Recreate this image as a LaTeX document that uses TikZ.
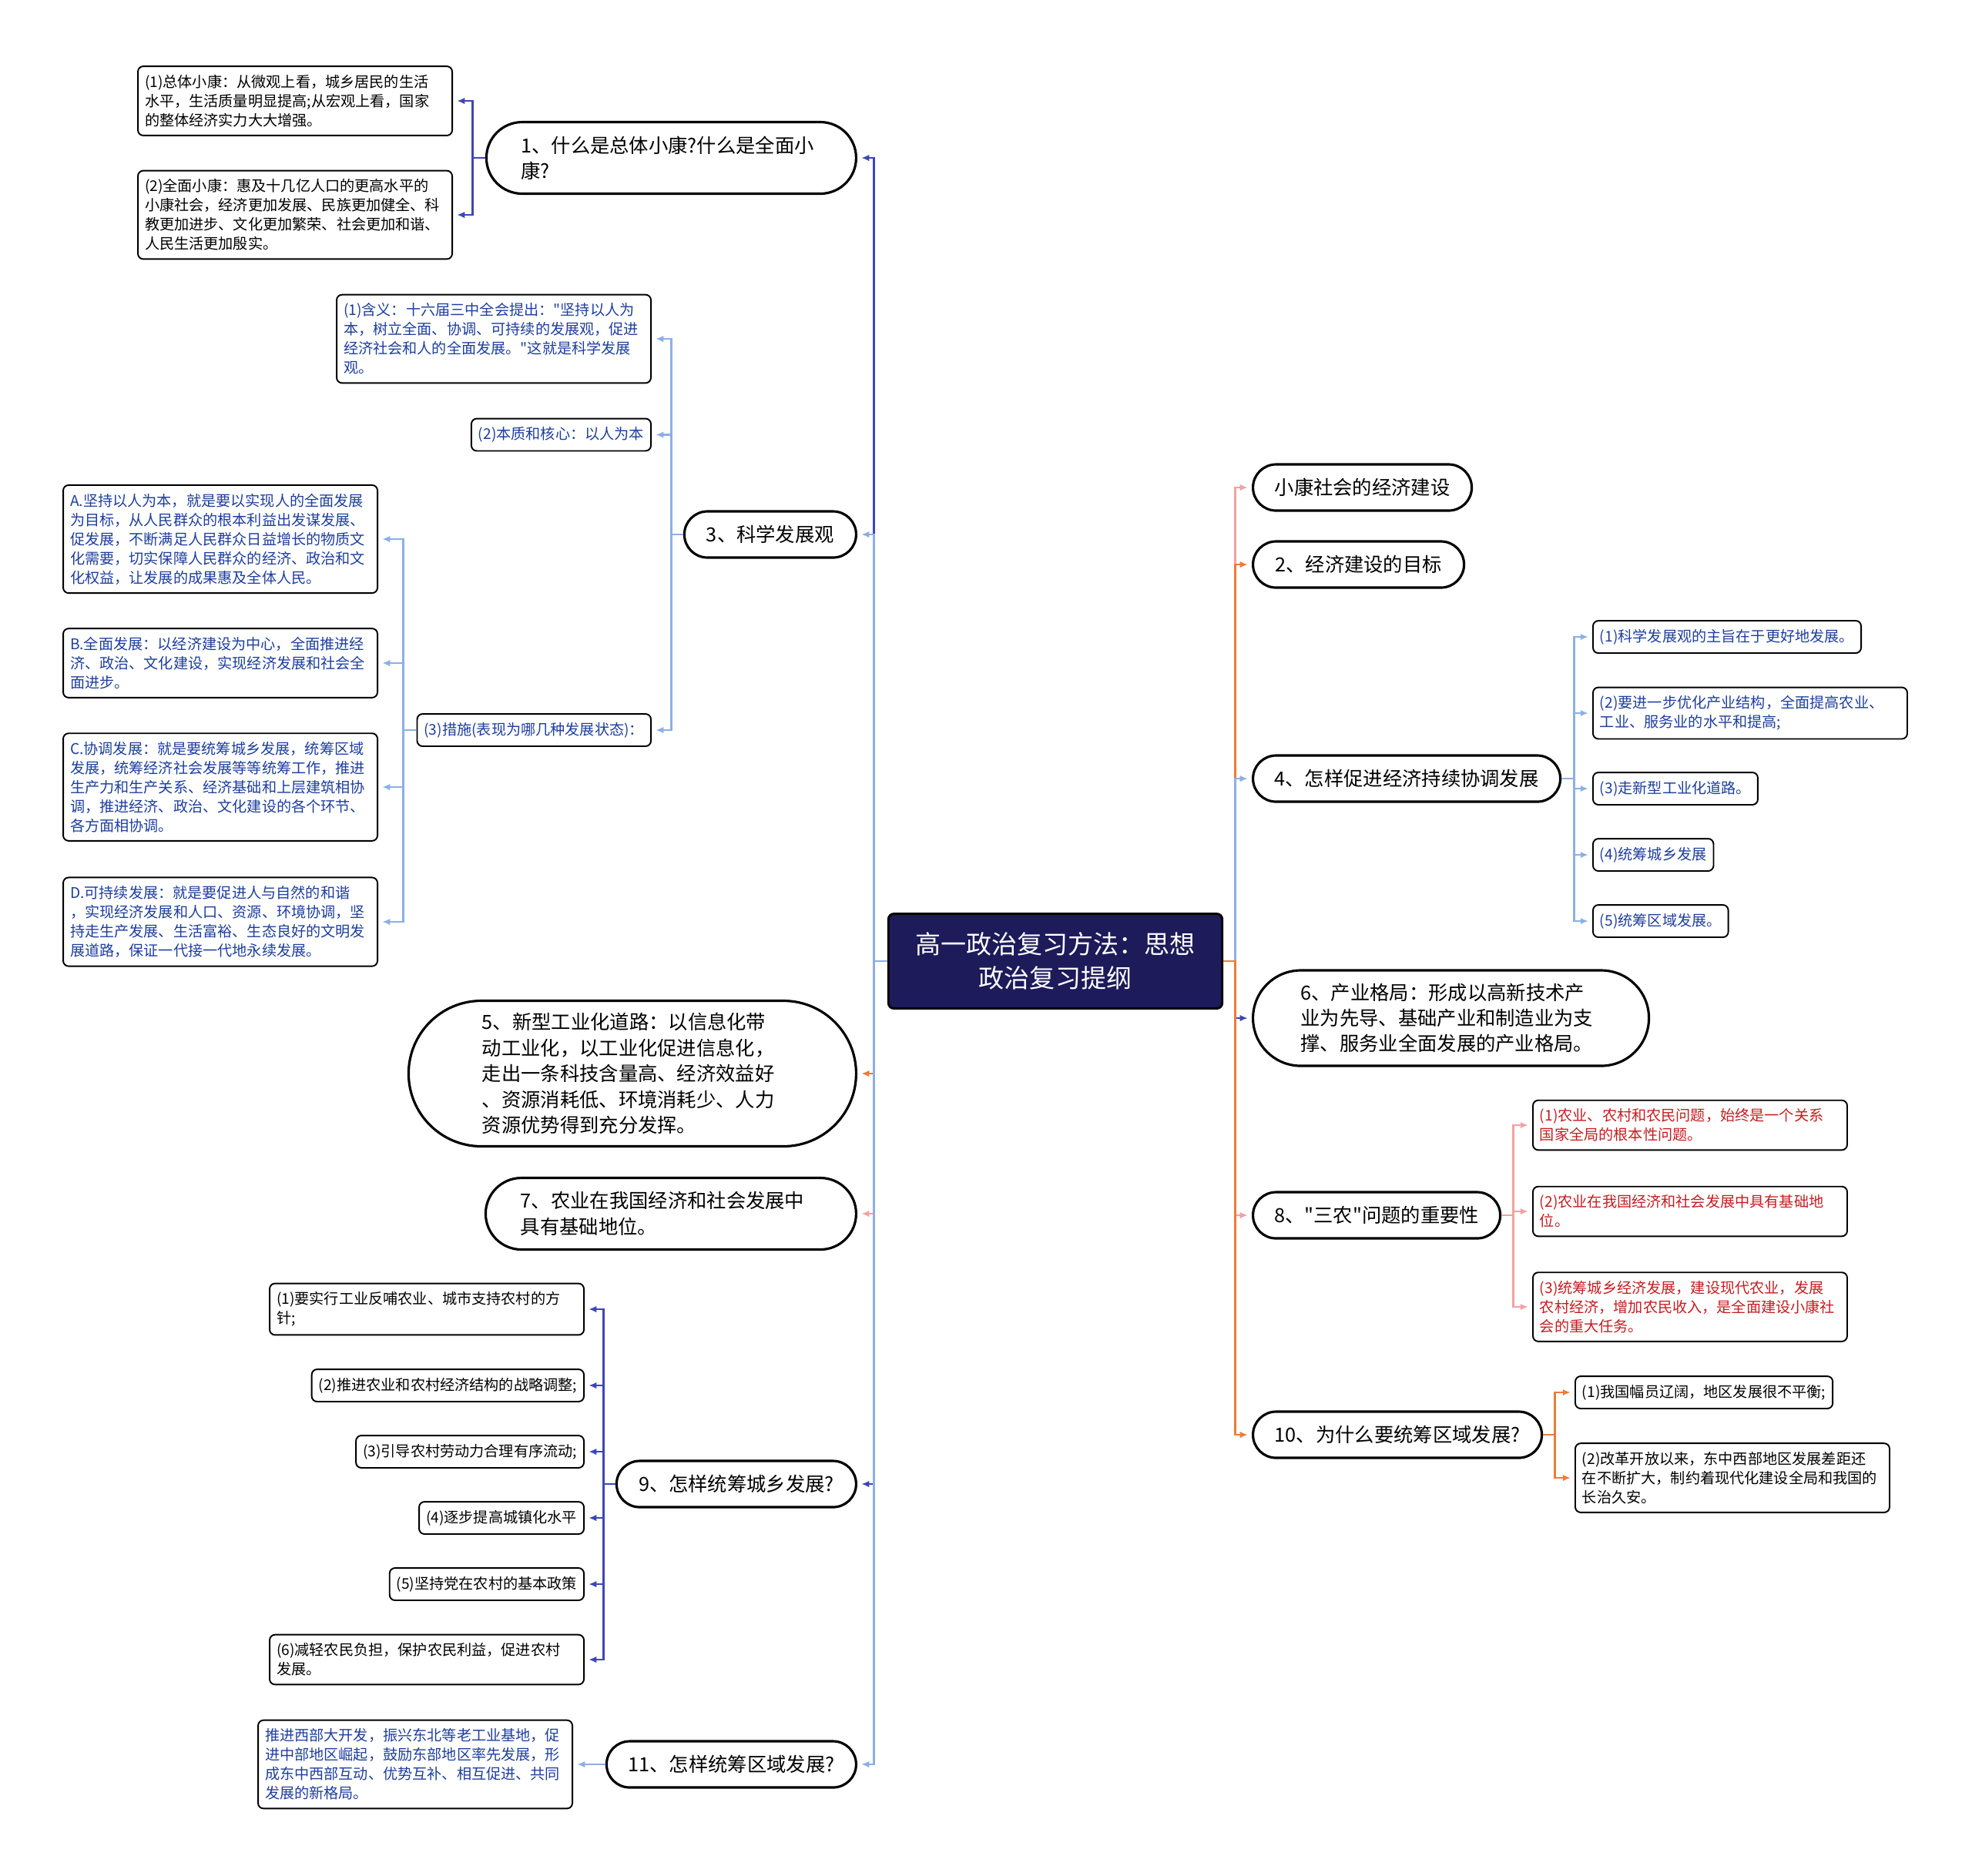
\documentclass[tikz,border=0pt]{standalone}
\usepackage{fontspec}
\setmainfont[Ligatures=TeXOff]{Noto Sans CJK SC}
\usepackage{xcolor}
\usepackage{tikz}
\usetikzlibrary{shapes.misc, arrows.meta, positioning}
\definecolor{mynavy}{RGB}{29,27,90}
\definecolor{myindigo}{RGB}{62,70,182}
\definecolor{mysky}{RGB}{140,175,230}
\definecolor{myorange}{RGB}{236,124,56}
\definecolor{mypink}{RGB}{242,162,162}
\definecolor{txtblue}{RGB}{30,62,158}
\definecolor{txtred}{RGB}{198,28,32}
\tikzset{
  rootnode/.style={rectangle, draw=black, fill=mynavy, text=white,
    minimum width=4.25cm, minimum height=1.23cm, text width=4.1cm,
    align=center, font=\fontsize{9.4pt}{12.5pt}\selectfont,
    rounded corners=2pt, line width=0.8pt},
  topic/.style={rounded rectangle, draw=black, fill=white,
    minimum height=0.6cm, inner xsep=0pt, inner ysep=1pt,
    font=\fontsize{7.2pt}{9.5pt}\selectfont, line width=0.9pt},
  longtopic/.style={topic, text width=3.9cm, align=left},
  leaf/.style={rectangle, draw=black, fill=white,
    inner xsep=0.09cm, inner ysep=0.11cm, align=left,
    font=\fontsize{5.45pt}{7.1pt}\selectfont, rounded corners=2pt, line width=0.55pt},
  wideleaf/.style={leaf, text width=3.9cm},
  arrow/.style={-{Latex[length=0.1cm, width=0.085cm]}, line width=0.8pt, shorten >=1.5pt},
  indigoarrow/.style={arrow, color=myindigo},
  skyarrow/.style={arrow, color=mysky},
  orangearrow/.style={arrow, color=myorange},
  pinkarrow/.style={arrow, color=mypink}
}

\begin{document}
\begin{tikzpicture}
  \useasboundingbox (0,0) rectangle (25.6,-24.35);

  % --- ROOT ---
  \node[rootnode] (root) at (13.70,-12.48) {高一政治复习方法：思想\\政治复习提纲};

  % --- LEFT TOPICS ---
  \node[longtopic, anchor=east, minimum width=4.80cm, minimum height=0.93cm] (t1) at (11.13,-2.05) {1、什么是总体小康?什么是全面小\\康?};
  \node[topic, anchor=east, minimum width=2.23cm] (t3) at (11.13,-6.94) {3、科学发展观};
  \node[longtopic, anchor=east, minimum width=5.81cm, minimum height=1.89cm] (t5) at (11.13,-13.94) {5、新型工业化道路：以信息化带\\动工业化，以工业化促进信息化，\\走出一条科技含量高、经济效益好\\、资源消耗低、环境消耗少、人力\\资源优势得到充分发挥。};
  \node[longtopic, anchor=east, minimum width=4.81cm, minimum height=0.93cm] (t7) at (11.13,-15.76) {7、农业在我国经济和社会发展中\\具有基础地位。};
  \node[topic, anchor=east, minimum width=3.11cm] (t9) at (11.13,-19.27) {9、怎样统筹城乡发展?};
  \node[topic, anchor=east, minimum width=3.24cm] (t11) at (11.13,-22.91) {11、怎样统筹区域发展?};

  % --- RIGHT TOPICS ---
  \node[topic, anchor=west, minimum width=2.84cm] (r0) at (16.25,-6.33) {小康社会的经济建设};
  \node[topic, anchor=west, minimum width=2.74cm] (r2) at (16.25,-7.33) {2、经济建设的目标};
  \node[topic, anchor=west, minimum width=3.99cm] (r4) at (16.25,-10.11) {4、怎样促进经济持续协调发展};
  \node[longtopic, anchor=west, minimum width=5.14cm, minimum height=1.24cm] (r6) at (16.25,-13.22) {6、产业格局：形成以高新技术产\\业为先导、基础产业和制造业为支\\撑、服务业全面发展的产业格局。};
  \node[topic, anchor=west, minimum width=3.21cm] (r8) at (16.25,-15.78) {8、"三农"问题的重要性};
  \node[topic, anchor=west, minimum width=3.75cm] (r10) at (16.25,-18.63) {10、为什么要统筹区域发展?};

  % --- TOPIC 1 LEAVES ---
  \node[wideleaf, anchor=east] (l1a) at (5.88,-1.31) {(1)总体小康：从微观上看，城乡居民的生活\\水平，生活质量明显提高;从宏观上看，国家\\的整体经济实力大大增强。};
  \node[wideleaf, anchor=east] (l1b) at (5.88,-2.79) {(2)全面小康：惠及十几亿人口的更高水平的\\小康社会，经济更加发展、民族更加健全、科\\教更加进步、文化更加繁荣、社会更加和谐、\\人民生活更加殷实。};

  % --- TOPIC 3 LEAVES ---
  \node[wideleaf, anchor=east, text=txtblue] (l3a) at (8.46,-4.40) {(1)含义：十六届三中全会提出："坚持以人为\\本，树立全面、协调、可持续的发展观，促进\\经济社会和人的全面发展。"这就是科学发展\\观。};
  \node[leaf, anchor=east, text=txtblue] (l3b) at (8.46,-5.645) {(2)本质和核心：以人为本};
  \node[leaf, anchor=east, text=txtblue] (l3c) at (8.46,-9.48) {(3)措施(表现为哪几种发展状态)：};
  \node[wideleaf, anchor=east, text=txtblue] (l3ca) at (4.91,-7.00) {A.坚持以人为本，就是要以实现人的全面发展\\为目标，从人民群众的根本利益出发谋发展、\\促发展，不断满足人民群众日益增长的物质文\\化需要，切实保障人民群众的经济、政治和文\\化权益，让发展的成果惠及全体人民。};
  \node[wideleaf, anchor=east, text=txtblue] (l3cb) at (4.91,-8.61) {B.全面发展：以经济建设为中心，全面推进经\\济、政治、文化建设，实现经济发展和社会全\\面进步。};
  \node[wideleaf, anchor=east, text=txtblue] (l3cc) at (4.91,-10.22) {C.协调发展：就是要统筹城乡发展，统筹区域\\发展，统筹经济社会发展等等统筹工作，推进\\生产力和生产关系、经济基础和上层建筑相协\\调，推进经济、政治、文化建设的各个环节、\\各方面相协调。};
  \node[wideleaf, anchor=east, text=txtblue] (l3cd) at (4.91,-11.97) {D.可持续发展：就是要促进人与自然的和谐\\，实现经济发展和人口、资源、环境协调，坚\\持走生产发展、生活富裕、生态良好的文明发\\展道路，保证一代接一代地永续发展。};

  % --- TOPIC 9 LEAVES ---
  \node[wideleaf, anchor=east] (l9a) at (7.59,-17.00) {(1)要实行工业反哺农业、城市支持农村的方\\针;};
  \node[leaf, anchor=east] (l9b) at (7.59,-17.99) {(2)推进农业和农村经济结构的战略调整;};
  \node[leaf, anchor=east] (l9c) at (7.59,-18.85) {(3)引导农村劳动力合理有序流动;};
  \node[leaf, anchor=east] (l9d) at (7.59,-19.71) {(4)逐步提高城镇化水平};
  \node[leaf, anchor=east] (l9e) at (7.59,-20.57) {(5)坚持党在农村的基本政策};
  \node[wideleaf, anchor=east] (l9f) at (7.59,-21.55) {(6)减轻农民负担，保护农民利益，促进农村\\发展。};

  % --- TOPIC 11 LEAF ---
  \node[wideleaf, anchor=east, text=txtblue] (l11) at (7.44,-22.91) {推进西部大开发，振兴东北等老工业基地，促\\进中部地区崛起，鼓励东部地区率先发展，形\\成东中西部互动、优势互补、相互促进、共同\\发展的新格局。};

  % --- TOPIC 4 LEAVES ---
  \node[leaf, anchor=west, text=txtblue] (r4a) at (20.67,-8.27) {(1)科学发展观的主旨在于更好地发展。};
  \node[wideleaf, anchor=west, text=txtblue] (r4b) at (20.67,-9.26) {(2)要进一步优化产业结构，全面提高农业、\\工业、服务业的水平和提高;};
  \node[leaf, anchor=west, text=txtblue] (r4c) at (20.67,-10.24) {(3)走新型工业化道路。};
  \node[leaf, anchor=west, text=txtblue] (r4d) at (20.67,-11.10) {(4)统筹城乡发展};
  \node[leaf, anchor=west, text=txtblue] (r4e) at (20.67,-11.96) {(5)统筹区域发展。};

  % --- TOPIC 8 LEAVES ---
  \node[wideleaf, anchor=west, text=txtred] (r8a) at (19.89,-14.61) {(1)农业、农村和农民问题，始终是一个关系\\国家全局的根本性问题。};
  \node[wideleaf, anchor=west, text=txtred] (r8b) at (19.89,-15.73) {(2)农业在我国经济和社会发展中具有基础地\\位。};
  \node[wideleaf, anchor=west, text=txtred] (r8c) at (19.89,-16.97) {(3)统筹城乡经济发展，建设现代农业，发展\\农村经济，增加农民收入，是全面建设小康社\\会的重大任务。};

  % --- TOPIC 10 LEAVES ---
  \node[leaf, anchor=west] (r10a) at (20.44,-18.08) {(1)我国幅员辽阔，地区发展很不平衡;};
  \node[wideleaf, anchor=west] (r10b) at (20.44,-19.19) {(2)改革开放以来，东中西部地区发展差距还\\在不断扩大，制约着现代化建设全局和我国的\\长治久安。};

  % --- ROOT TO LEFT TOPICS ---
  \draw[indigoarrow] (root.west) -- ++(-0.17,0) |- (t1.east);
  \draw[skyarrow] (root.west) -- ++(-0.17,0) |- (t3.east);
  \draw[orangearrow] (root.west) -- ++(-0.17,0) |- (t5.east);
  \draw[pinkarrow] (root.west) -- ++(-0.17,0) |- (t7.east);
  \draw[indigoarrow] (root.west) -- ++(-0.17,0) |- (t9.east);
  \draw[skyarrow] (root.west) -- ++(-0.17,0) |- (t11.east);

  % --- ROOT TO RIGHT TOPICS ---
  \draw[pinkarrow] (root.east) -- ++(0.15,0) |- (r0.west);
  \draw[orangearrow] (root.east) -- ++(0.15,0) |- (r2.west);
  \draw[skyarrow] (root.east) -- ++(0.15,0) |- (r4.west);
  \draw[indigoarrow] (root.east) -- ++(0.15,0) |- (r6.west);
  \draw[pinkarrow] (root.east) -- ++(0.15,0) |- (r8.west);
  \draw[orangearrow] (root.east) -- ++(0.15,0) |- (r10.west);

  % --- TOPICS TO LEAVES ---
  \draw[indigoarrow] (t1.west) -- ++(-0.16,0) |- (l1a.east);
  \draw[indigoarrow] (t1.west) -- ++(-0.16,0) |- (l1b.east);

  \draw[skyarrow] (t3.west) -- ++(-0.15,0) |- (l3a.east);
  \draw[skyarrow] (t3.west) -- ++(-0.15,0) |- (l3b.east);
  \draw[skyarrow] (t3.west) -- ++(-0.15,0) |- (l3c.east);
  \draw[skyarrow] (l3c.west) -- ++(-0.17,0) |- (l3ca.east);
  \draw[skyarrow] (l3c.west) -- ++(-0.17,0) |- (l3cb.east);
  \draw[skyarrow] (l3c.west) -- ++(-0.17,0) |- (l3cc.east);
  \draw[skyarrow] (l3c.west) -- ++(-0.17,0) |- (l3cd.east);

  \draw[indigoarrow] (t9.west) -- ++(-0.15,0) |- (l9a.east);
  \draw[indigoarrow] (t9.west) -- ++(-0.15,0) |- (l9b.east);
  \draw[indigoarrow] (t9.west) -- ++(-0.15,0) |- (l9c.east);
  \draw[indigoarrow] (t9.west) -- ++(-0.15,0) |- (l9d.east);
  \draw[indigoarrow] (t9.west) -- ++(-0.15,0) |- (l9e.east);
  \draw[indigoarrow] (t9.west) -- ++(-0.15,0) |- (l9f.east);

  \draw[skyarrow] (t11.west) -- (l11.east);

  \draw[skyarrow] (r4.east) -- ++(0.16,0) |- (r4a.west);
  \draw[skyarrow] (r4.east) -- ++(0.16,0) |- (r4b.west);
  \draw[skyarrow] (r4.east) -- ++(0.16,0) |- (r4c.west);
  \draw[skyarrow] (r4.east) -- ++(0.16,0) |- (r4d.west);
  \draw[skyarrow] (r4.east) -- ++(0.16,0) |- (r4e.west);

  \draw[pinkarrow] (r8.east) -- ++(0.15,0) |- (r8a.west);
  \draw[pinkarrow] (r8.east) -- ++(0.15,0) |- (r8b.west);
  \draw[pinkarrow] (r8.east) -- ++(0.15,0) |- (r8c.west);

  \draw[orangearrow] (r10.east) -- ++(0.15,0) |- (r10a.west);
  \draw[orangearrow] (r10.east) -- ++(0.15,0) |- (r10b.west);
\end{tikzpicture}
\end{document}
